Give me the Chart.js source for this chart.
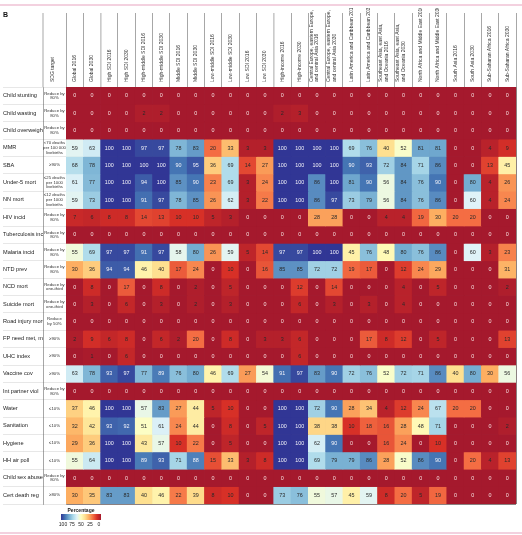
<!DOCTYPE html>
<html>
<head>
<meta charset="utf-8">
<script src="https://cdn.jsdelivr.net/npm/chart.js@4.4.1/dist/chart.umd.min.js"></script>
<style>
  html, body { margin: 0; padding: 0; background: #fff; }
  #wrap { position: relative; width: 522px; height: 535px; }
</style>
</head>
<body>
<div id="wrap"><canvas id="heat"></canvas></div>
<script>
// --- DATA ---
const columns = [
    'Global 2016', 'Global 2030', 'High SDI 2016', 'High SDI 2030',
    'High-middle SDI 2016', 'High-middle SDI 2030', 'Middle SDI 2016', 'Middle SDI 2030',
    'Low-middle SDI 2016', 'Low-middle SDI 2030', 'Low SDI 2016', 'Low SDI 2030',
    'High-income 2016', 'High-income 2030',
    ['Central Europe, eastern Europe,', 'and central Asia 2016'],
    ['Central Europe, eastern Europe,', 'and central Asia 2030'],
    'Latin America and Caribbean 2016', 'Latin America and Caribbean 2030',
    ['Southeast Asia, east Asia,', 'and Oceania 2016'],
    ['Southeast Asia, east Asia,', 'and Oceania 2030'],
    'North Africa and Middle East 2016', 'North Africa and Middle East 2030',
    'South Asia 2016', 'South Asia 2030',
    'Sub-Saharan Africa 2016', 'Sub-Saharan Africa 2030'
];

const rowNames = [
    'Child stunting', 'Child wasting', 'Child overweight', 'MMR', 'SBA', 'Under-5 mort',
    'NN mort', 'HIV incid', 'Tuberculosis incid', 'Malaria incid', 'NTD prev', 'NCD mort',
    'Suicide mort', 'Road injury mort', 'FP need met, mod', 'UHC index', 'Vaccine cov',
    'Int partner viol', 'Water', 'Sanitation', 'Hygiene', 'HH air poll', 'Child sex abuse',
    'Cert death reg'
];

const sdgTargets = [
    ['Reduce by', '80%'], ['Reduce by', '80%'], ['Reduce by', '80%'],
    ['<70 deaths', 'per 100 000', 'livebirths'], '\u226590%',
    ['\u226425 deaths', 'per 1000', 'livebirths'], ['\u226412 deaths', 'per 1000', 'livebirths'],
    ['Reduce by', '80%'], ['Reduce by', '80%'], ['Reduce by', '80%'], ['Reduce by', '80%'],
    ['Reduce by', 'one-third'], ['Reduce by', 'one-third'], ['Reduce', 'by 50%'],
    '\u226590%', '\u226590%', '\u226590%', ['Reduce by', '80%'],
    '\u226410%', '\u226410%', '\u226410%', '\u226410%', ['Reduce by', '80%'], '\u226580%'
];

const childStunting   = [0,0,0,0,0,0,0,0,0,0,0,0,0,0,0,0,0,0,0,0,0,0,0,0,0,0];
const childWasting    = [0,0,0,0,2,2,0,0,0,0,0,0,2,3,0,0,0,0,0,0,0,0,0,0,0,0];
const childOverweight = [0,0,0,0,0,0,0,0,0,0,0,0,0,0,0,0,0,0,0,0,0,0,0,0,0,0];
const mmr             = [59,63,100,100,97,97,78,83,20,33,3,3,100,100,100,100,69,76,40,52,81,81,0,0,4,9];
const sba             = [68,78,100,100,100,100,90,95,36,69,14,27,100,100,100,100,90,93,72,84,71,86,0,0,13,45];
const under5Mort      = [61,77,100,100,94,100,85,90,23,69,3,24,100,100,86,100,81,90,56,84,76,90,0,80,4,26];
const nnMort          = [59,73,100,100,91,97,78,85,26,62,3,22,100,100,86,97,73,79,56,84,76,86,0,60,4,24];
const hivIncid        = [7,6,8,8,14,13,10,10,5,3,0,0,0,0,28,28,0,0,4,4,19,30,20,20,0,0];
const tbIncid         = [0,0,0,0,0,0,0,0,0,0,0,0,0,0,0,0,0,0,0,0,0,0,0,0,0,0];
const malariaIncid    = [55,69,97,97,91,97,58,80,26,59,5,14,97,97,100,100,45,76,48,80,76,86,0,60,3,23];
const ntdPrev         = [30,36,94,94,46,40,17,24,0,10,0,16,85,85,72,72,19,17,0,12,24,29,0,0,0,31];
const ncdMort         = [0,8,0,17,0,8,0,2,0,5,0,0,0,12,0,14,0,0,0,4,0,5,0,0,0,2];
const suicideMort     = [0,3,0,6,0,3,0,2,0,3,0,0,0,6,0,3,0,3,0,4,0,0,0,0,0,0];
const roadInjuryMort  = [0,0,0,0,0,0,0,0,0,0,0,0,0,0,0,0,0,0,0,0,0,0,0,0,0,0];
const fpNeedMet       = [2,9,6,8,0,6,2,20,0,8,0,3,3,6,0,0,0,17,8,12,0,5,0,0,0,13];
const uhcIndex        = [0,1,0,6,0,0,0,0,0,0,0,0,0,6,0,0,0,0,0,0,0,0,0,0,0,0];
const vaccineCov      = [63,78,93,97,77,89,76,80,46,69,27,54,91,97,83,90,72,76,52,72,71,86,40,80,30,56];
const intPartnerViol  = [0,0,0,0,0,0,0,0,0,0,0,0,0,0,0,0,0,0,0,0,0,0,0,0,0,0];
const water           = [37,46,100,100,57,83,27,44,5,10,0,0,100,100,72,90,28,34,4,12,24,67,20,20,0,0];
const sanitation      = [32,42,93,92,51,61,24,44,0,8,0,5,100,100,38,38,10,18,16,28,48,71,0,0,0,2];
const hygiene         = [29,36,100,100,43,57,10,22,0,5,0,0,100,100,62,90,0,0,16,24,0,10,0,0,0,0];
const hhAirPoll       = [55,64,100,100,89,93,71,88,15,33,3,8,100,100,69,79,79,86,28,52,86,90,0,20,4,13];
const childSexAbuse   = [0,0,0,0,0,0,0,0,0,0,0,0,0,0,0,0,0,0,0,0,0,0,0,0,0,0];
const certDeathReg    = [30,35,83,83,40,46,22,39,8,10,0,0,73,76,55,57,45,59,8,20,5,19,0,0,0,0];

const rowValues = [
    childStunting, childWasting, childOverweight, mmr, sba, under5Mort, nnMort, hivIncid,
    tbIncid, malariaIncid, ntdPrev, ncdMort, suicideMort, roadInjuryMort, fpNeedMet, uhcIndex,
    vaccineCov, intPartnerViol, water, sanitation, hygiene, hhAirPoll, childSexAbuse, certDeathReg
];

const legendTicks = [100, 75, 50, 25, 0];

// --- COLOURS ---
const FONT = "'Liberation Sans Narrow', 'Liberation Sans', Arial, sans-serif";
const palette = ['#a5192d', '#d73027', '#f46d43', '#fdae61', '#fee090', '#ffffbf',
                 '#e0f3f8', '#abd9e9', '#74add1', '#4575b4', '#313695'];
const splitCols = [2, 12]; // white gaps before High SDI 2016 and High-income 2016

function hexToRgb(h) {
    return [1, 3, 5].map(i => parseInt(h.substr(i, 2), 16));
}

function heatColour(v) {
    const t = Math.max(0, Math.min(1, v / 100)) * (palette.length - 1);
    const i = Math.min(Math.floor(t), palette.length - 2);
    const f = t - i;
    const a = hexToRgb(palette[i]), b = hexToRgb(palette[i + 1]);
    const c = a.map((x, k) => Math.round(x + (b[k] - x) * f));
    return `rgb(${c[0]},${c[1]},${c[2]})`;
}

function textColour(v) {
    if (v === 0) return '#f6dede';
    if (v >= 88) return '#f2f2f8';
    return '#2a2a2a';
}

// width of the widest SDG target line, so the labels can be centred in their column
function widestLine(labels, font) {
    const c = document.createElement('canvas').getContext('2d');
    c.font = font;
    return Math.max(...labels.flat().map(t => c.measureText(t).width));
}

const TARGET_W = 23;
const TARGET_FONT = 4.3;
const targetWidest = widestLine(sdgTargets, `${TARGET_FONT}px ${FONT}`);
const HEAD_FONT = 5, HEAD_LH = 1.15;

// --- PLUGINS ---
const cellText = {
    id: 'cellText',
    afterDatasetsDraw(chart) {
        const ctx = chart.ctx;
        ctx.save();
        ctx.font = `5.4px 'Liberation Sans', Arial, sans-serif`;
        ctx.textAlign = 'center';
        ctx.textBaseline = 'middle';
        chart.data.datasets.forEach((ds, r) => {
            chart.getDatasetMeta(r).data.forEach((bar, j) => {
                const v = rowValues[r][j];
                const p = bar.getProps(['x', 'y', 'base'], true);
                ctx.fillStyle = textColour(v);
                ctx.fillText(String(v), p.x, (p.y + p.base) / 2 + 0.3);
            });
        });
        ctx.restore();
    }
};

const decor = {
    id: 'decor',
    afterDraw(chart) {
        const ctx = chart.ctx;
        const area = chart.chartArea;
        ctx.save();

        // pink rules top and bottom
        ctx.fillStyle = '#e7a3bf';
        ctx.fillRect(0, 4.5, 522, 1);
        ctx.fillRect(0, 532.5, 522, 1);

        // panel letter
        ctx.fillStyle = '#111';
        ctx.font = `bold 7px 'Liberation Sans', Arial, sans-serif`;
        ctx.textBaseline = 'alphabetic';
        ctx.fillText('B', 3, 17);

        // header of the SDG target column
        const tx = chart.scales.yTarget;
        ctx.strokeStyle = '#6b6b6b';
        ctx.lineWidth = 0.6;
        ctx.beginPath();
        ctx.moveTo(tx.left, area.top - 74);
        ctx.lineTo(tx.left, area.top);
        ctx.stroke();
        ctx.save();
        ctx.translate((tx.left + tx.right) / 2 - 2, area.top - 5);
        ctx.rotate(-Math.PI / 2);
        ctx.font = `${HEAD_FONT}px ${FONT}`;
        ctx.fillStyle = '#333';
        ctx.textAlign = 'left';
        ctx.textBaseline = 'middle';
        ctx.fillText('SDG target', 0, 0);
        ctx.restore();

        // colour key
        const x0 = 61, x1 = 101, y0 = 514, h = 6;
        const grad = ctx.createLinearGradient(x0, 0, x1, 0);
        palette.slice().reverse().forEach((c, i) => grad.addColorStop(i / (palette.length - 1), c));
        ctx.fillStyle = grad;
        ctx.fillRect(x0, y0, x1 - x0, h);
        ctx.fillStyle = '#222';
        ctx.font = `bold 5px ${FONT}`;
        ctx.textAlign = 'center';
        ctx.textBaseline = 'alphabetic';
        ctx.fillText('Percentage', (x0 + x1) / 2, y0 - 2);
        ctx.font = `5px ${FONT}`;
        legendTicks.forEach((t, i) => {
            ctx.fillText(String(t), x0 + 2 + i * (x1 - x0 - 4) / (legendTicks.length - 1), y0 + h + 6);
        });

        ctx.restore();
    }
};

// --- CHART ---
const datasets = rowNames.map((name, r) => ({
    label: name,
    data: columns.map(() => [r, r + 1]),
    backgroundColor: c => heatColour(rowValues[r][c.dataIndex]),
    borderWidth: 0,
    grouped: false,
    barPercentage: 1,
    categoryPercentage: 1
}));

new Chart(document.getElementById('heat'), {
    type: 'bar',
    data: { labels: columns, datasets: datasets },
    plugins: [cellText, decor],
    options: {
        responsive: true,
        maintainAspectRatio: false,
        animation: false,
        events: [],
        layout: { padding: { top: 8, left: 3, right: 6, bottom: 31 } },
        plugins: { legend: { display: false }, tooltip: { enabled: false } },
        scales: {
            x: {
                type: 'category',
                position: 'top',
                offset: true,
                z: 2,
                grid: {
                    offset: true,
                    color: c => splitCols.includes(c.index) ? '#ffffff' : '#3d2a2a',
                    lineWidth: c => splitCols.includes(c.index) ? 1.8 : 0.6,
                    tickLength: 74,
                    tickColor: '#6b6b6b',
                    tickWidth: 0.6
                },
                border: { display: true, color: '#3d2a2a', width: 0.6 },
                ticks: {
                    autoSkip: false,
                    minRotation: 90,
                    maxRotation: 90,
                    padding: -69,
                    // top-axis rotated labels sit one line to the left of the tick
                    labelOffset: HEAD_FONT * HEAD_LH,
                    font: { family: FONT, size: HEAD_FONT, lineHeight: HEAD_LH },
                    color: '#333'
                },
                afterFit: s => { s.height = 79; s.paddingLeft = 0; s.paddingRight = 0; }
            },
            y: { type: 'linear', min: 0, max: 24, reverse: true, display: false },
            yName: {
                type: 'category',
                position: 'left',
                labels: rowNames,
                offset: true,
                weight: 2,
                z: 1,
                grid: {
                    offset: true,
                    color: '#3d2a2a',
                    lineWidth: 0.6,
                    tickLength: 40,
                    tickColor: '#cfcfcf',
                    tickWidth: 0.5
                },
                border: { display: true, color: '#6b6b6b', width: 0.6 },
                ticks: {
                    autoSkip: false,
                    crossAlign: 'far',
                    padding: 0,
                    font: { family: FONT, size: 5.6 },
                    color: '#222'
                },
                afterFit: s => { s.width = 40; }
            },
            yTarget: {
                type: 'category',
                position: 'left',
                labels: sdgTargets,
                offset: true,
                weight: 1,
                grid: {
                    offset: true,
                    drawOnChartArea: false,
                    tickLength: TARGET_W,
                    tickColor: '#cfcfcf',
                    tickWidth: 0.5
                },
                border: { display: true, color: '#6b6b6b', width: 0.6 },
                ticks: {
                    autoSkip: false,
                    crossAlign: 'center',
                    padding: TARGET_W / 2 - TARGET_W - targetWidest / 2,
                    font: { family: FONT, size: TARGET_FONT, lineHeight: 1.1 },
                    color: '#333'
                },
                afterFit: s => { s.width = TARGET_W; }
            }
        }
    }
});
</script>
</body>
</html>
